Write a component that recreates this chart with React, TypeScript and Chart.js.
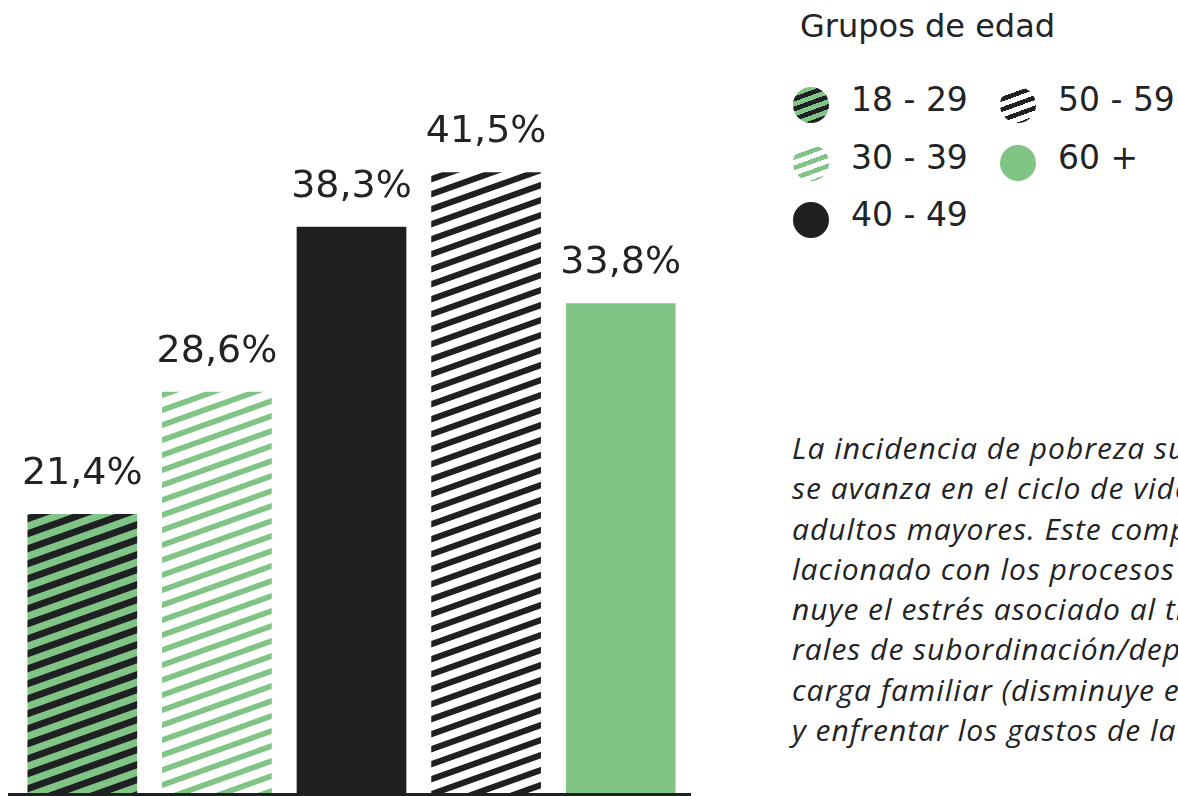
import React, { useEffect, useRef } from "react";
import { Chart, registerables } from "chart.js";

Chart.register(...registerables);

const categories = ["18 - 29", "30 - 39", "40 - 49", "50 - 59", "60 +"];
const values = [21.4, 28.6, 38.3, 41.5, 33.8];
const legendTitle = "Grupos de edad";
const noteLines = [
  "La incidencia de pobreza subjetiva aumenta a medida que",
  "se avanza en el ciclo de vida, excepto en el grupo de los",
  "adultos mayores. Este comportamiento podría estar re-",
  "lacionado con los procesos de jubilación, donde dismi-",
  "nuye el estrés asociado al trabajo y a las relaciones labo-",
  "rales de subordinación/dependencia, y por la reducción de la",
  "carga familiar (disminuye el número de personas a cargo)",
  "y enfrentar los gastos de la familia.",
];

const GREEN = "#81c586";
const DARK = "#1f2022";
const TEXT = "#222325";

function stripePattern(
  ctx: CanvasRenderingContext2D,
  bg: string,
  fg: string,
  w: number,
  h: number,
  t: number
) {
  const c = document.createElement("canvas");
  c.width = w;
  c.height = h;
  const g = c.getContext("2d")!;
  g.fillStyle = bg;
  g.fillRect(0, 0, w, h);
  g.fillStyle = fg;
  for (let k = -3; k <= 3; k++) {
    g.beginPath();
    g.moveTo(-w, h * (2 + k));
    g.lineTo(2 * w, h * (k - 1));
    g.lineTo(2 * w, h * (k - 1) + t);
    g.lineTo(-w, h * (2 + k) + t);
    g.closePath();
    g.fill();
  }
  return ctx.createPattern(c, "repeat")!;
}

// CSS stripes for the legend swatches
function cssStripes(bg: string, fg: string, period: number, t: number) {
  return `repeating-linear-gradient(160deg, ${fg} 0px, ${fg} ${t}px, ${bg} ${t}px, ${bg} ${period}px)`;
}

const legendSwatches = [
  cssStripes(GREEN, DARK, 9.4, 4.6),
  cssStripes("#ffffff", GREEN, 9.8, 4.6),
  DARK,
  cssStripes("#ffffff", DARK, 9.8, 4.6),
  GREEN,
];

// legend placement: [left, top] of swatch for each category
const legendPos: [number, number][] = [
  [793, 87],
  [793, 144.5],
  [793, 202],
  [1000, 87],
  [1000, 144.5],
];

export default function App() {
  const ref = useRef<HTMLCanvasElement | null>(null);

  useEffect(() => {
    const canvas = ref.current!;
    const ctx = canvas.getContext("2d")!;
    const fills = [
      stripePattern(ctx, GREEN, DARK, 42, 15, 7.3),
      stripePattern(ctx, "#ffffff", GREEN, 42, 15, 6),
      DARK,
      stripePattern(ctx, "#ffffff", DARK, 42, 15, 6.5),
      GREEN,
    ];

    const labelPlugin = {
      id: "valueLabels",
      afterDatasetsDraw(chart: any) {
        const c = chart.ctx as CanvasRenderingContext2D;
        const meta = chart.getDatasetMeta(0);
        c.save();
        c.font = "38px 'DejaVu Sans'";
        c.fillStyle = TEXT;
        c.textAlign = "center";
        c.textBaseline = "alphabetic";
        meta.data.forEach((bar: any, i: number) => {
          const txt = values[i].toFixed(1).replace(".", ",") + "%";
          c.fillText(txt, bar.x, bar.y - 30);
        });
        c.restore();
      },
    };

    const baselinePlugin = {
      id: "baseline",
      afterDatasetsDraw(chart: any) {
        const c = chart.ctx as CanvasRenderingContext2D;
        const y = chart.chartArea.bottom;
        c.save();
        c.fillStyle = DARK;
        c.fillRect(8, y, 683, 3);
        c.restore();
      },
    };

    const chart = new Chart(ctx, {
      type: "bar",
      data: {
        labels: categories,
        datasets: [
          {
            data: values,
            backgroundColor: fills as any,
            borderWidth: 0,
            barPercentage: 0.815,
            categoryPercentage: 1,
          },
        ],
      },
      options: {
        responsive: false,
        animation: false,
        layout: { padding: { left: 15, right: 32, top: 100, bottom: 3 } },
        scales: {
          x: { display: false },
          y: { display: false, min: 5, max: 45.75 },
        },
        plugins: {
          legend: { display: false },
          tooltip: { enabled: false },
        },
      },
      plugins: [labelPlugin, baselinePlugin],
    });
    return () => chart.destroy();
  }, []);

  return (
    <div
      style={{
        position: "fixed",
        inset: 0,
        overflow: "hidden",
        background: "#ffffff",
      }}
    >
      <canvas
        ref={ref}
        width={720}
        height={796}
        style={{ position: "absolute", left: 0, top: 0, width: 720, height: 796 }}
      />
      <div
        style={{
          position: "absolute",
          left: 800,
          top: 10,
          font: "32px 'DejaVu Sans'",
          lineHeight: "32px",
          color: TEXT,
          whiteSpace: "nowrap",
        }}
      >
        {legendTitle}
      </div>
      {categories.map((cat, i) => (
        <div key={cat}>
          <div
            style={{
              position: "absolute",
              left: legendPos[i][0],
              top: legendPos[i][1],
              width: 36,
              height: 36,
              borderRadius: "50%",
              background: legendSwatches[i],
            }}
          />
          <div
            style={{
              position: "absolute",
              left: legendPos[i][0] + 58,
              top: legendPos[i][1] - 4,
              font: "33px 'DejaVu Sans'",
              lineHeight: "33px",
              color: TEXT,
              whiteSpace: "nowrap",
            }}
          >
            {cat}
          </div>
        </div>
      ))}
      <div
        style={{
          position: "absolute",
          left: 792,
          top: 428,
          font: "italic 30px 'Open Sans'",
          letterSpacing: "1px",
          lineHeight: "40.3px",
          color: TEXT,
        }}
      >
        {noteLines.map((l, i) => (
          <div key={i} style={{ whiteSpace: "nowrap" }}>
            {l}
          </div>
        ))}
      </div>
    </div>
  );
}
